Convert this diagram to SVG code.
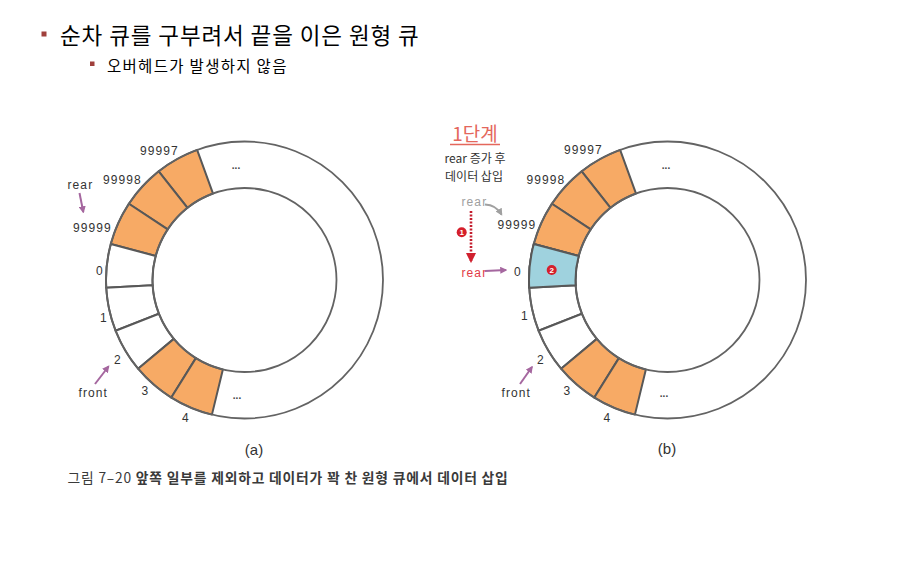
<svg xmlns="http://www.w3.org/2000/svg" width="902" height="581" viewBox="0 0 902 581">
<style>
.lbl{font-family:"Liberation Sans",Arial,sans-serif;font-size:12px;letter-spacing:1.1px;fill:#333}
.kr{font-family:"Noto Sans CJK KR","Noto Sans",sans-serif}
.dots{font-family:"Liberation Sans",Arial,sans-serif;font-size:10px;font-weight:bold;fill:#444;text-anchor:middle}
.cell{stroke:#585858;stroke-width:2;stroke-linejoin:round}
.full{fill:#F7AA65}
.empty{fill:#fff}
.ins{fill:#9FD2DE}
.ring{fill:none;stroke:#636363;stroke-width:1.8}
.parr{stroke:#A5679F;stroke-width:2;fill:none}
.sub{font-family:"Liberation Sans",Arial,sans-serif;font-size:15px;fill:#333;text-anchor:middle}
</style>
<defs>
<marker id="mp" viewBox="0 0 10 10" refX="8" refY="5" markerWidth="3.6" markerHeight="3.6" orient="auto"><path d="M0,0 L10,5 L0,10 z" fill="#A5679F"/></marker>
<marker id="mg" viewBox="0 0 10 10" refX="8" refY="5" markerWidth="3.6" markerHeight="3.6" orient="auto"><path d="M0,0 L10,5 L0,10 z" fill="#A0A0A0"/></marker>
<marker id="mr" viewBox="0 0 10 10" refX="8" refY="5" markerWidth="4" markerHeight="4" orient="auto"><path d="M0,0 L10,5 L0,10 z" fill="#D0202E"/></marker>
<g id="ring-shape">
<path class="cell full" d="M197.13,149.85 A138.5,138.5 0 0 0 158.67,171.30 L187.49,207.79 A92,92 0 0 1 213.03,193.55 Z"/>
<path class="cell full" d="M158.67,171.30 A138.5,138.5 0 0 0 128.87,203.76 L167.69,229.36 A92,92 0 0 1 187.49,207.79 Z"/>
<path class="cell full" d="M128.87,203.76 A138.5,138.5 0 0 0 110.78,243.92 L155.68,256.03 A92,92 0 0 1 167.69,229.36 Z"/>
<path class="cell empty" d="M110.78,243.92 A138.5,138.5 0 0 0 106.22,287.73 L152.64,285.14 A92,92 0 0 1 155.68,256.03 Z"/>
<path class="cell empty" d="M106.22,287.73 A138.5,138.5 0 0 0 115.64,330.76 L158.90,313.72 A92,92 0 0 1 152.64,285.14 Z"/>
<path class="cell empty" d="M115.64,330.76 A138.5,138.5 0 0 0 138.09,368.66 L173.82,338.89 A92,92 0 0 1 158.90,313.72 Z"/>
<path class="cell full" d="M138.09,368.66 A138.5,138.5 0 0 0 171.31,397.58 L195.88,358.10 A92,92 0 0 1 173.82,338.89 Z"/>
<path class="cell full" d="M171.31,397.58 A138.5,138.5 0 0 0 211.93,414.62 L222.87,369.42 A92,92 0 0 1 195.88,358.10 Z"/>
<circle class="ring" cx="244.5" cy="280" r="138.5"/>
<circle class="ring" cx="244.5" cy="280" r="92"/>
</g>
</defs>

<g id="header">
<rect x="41.5" y="31.5" width="5" height="5" fill="#A0403C"/>
<text class="kr" x="60" y="44" font-size="22.5" letter-spacing="0.9" fill="#000">순차 큐를 구부려서 끝을 이은 원형 큐</text>
<rect x="90" y="61.5" width="4.5" height="4.5" fill="#A0403C"/>
<text class="kr" x="107" y="72" font-size="15.5" letter-spacing="1.3" fill="#000">오버헤드가 발생하지 않음</text>
</g>

<g id="queue-a">
<use href="#ring-shape"/>
<text class="dots" x="236" y="169">...</text>
<text class="dots" x="237" y="399">...</text>
<text class="lbl" x="140" y="155">99997</text>
<text class="lbl" x="103" y="184">99998</text>
<text class="lbl" x="73" y="231.5">99999</text>
<text class="lbl" x="96" y="275">0</text>
<text class="lbl" x="100" y="321.5">1</text>
<text class="lbl" x="114" y="363.5">2</text>
<text class="lbl" x="141.5" y="395">3</text>
<text class="lbl" x="182" y="421.5">4</text>
<text class="lbl" x="67.5" y="189">rear</text>
<text class="lbl" x="78.5" y="396.5">front</text>
<text class="sub" x="254" y="455">(a)</text>
</g>

<g id="queue-b">
<g transform="translate(423,0)"><use href="#ring-shape"/></g>
<path id="cell-b-0" class="cell ins" d="M533.78,243.92 A138.5,138.5 0 0 0 529.22,287.73 L575.64,285.14 A92,92 0 0 1 578.68,256.03 Z"/>
<text class="dots" x="666" y="169">...</text>
<text class="dots" x="664" y="397">...</text>
<text class="lbl" x="564" y="154">99997</text>
<text class="lbl" x="526.5" y="183.5">99998</text>
<text class="lbl" x="497.5" y="228.5">99999</text>
<text class="lbl" x="514" y="275.5">0</text>
<text class="lbl" x="521" y="320">1</text>
<text class="lbl" x="537" y="363.5">2</text>
<text class="lbl" x="563.5" y="395">3</text>
<text class="lbl" x="603.5" y="422">4</text>
<text class="lbl" x="501.5" y="396.5">front</text>
<text class="lbl" x="461.5" y="206" style="fill:#A0A0A0">rear</text>
<text class="lbl" x="461.5" y="277" style="fill:#E23A46">rear</text>
<text class="kr" x="475" y="141" font-size="19" fill="#E4675C" text-anchor="middle">1단계</text>
<line x1="450" y1="144.5" x2="500" y2="144.5" stroke="#E4675C" stroke-width="1.5"/>
<text class="kr" x="475" y="163" font-size="12" fill="#333" text-anchor="middle">rear 증가 후</text>
<text class="kr" x="474" y="181" font-size="12" fill="#333" text-anchor="middle">데이터 삽입</text>
<circle cx="461.7" cy="232.3" r="5" fill="#D51F2B"/>
<text x="461.7" y="235.2" font-family="Liberation Sans,Arial,sans-serif" font-size="8" font-weight="bold" fill="#fff" text-anchor="middle">1</text>
<circle cx="551.7" cy="270" r="5" fill="#D51F2B"/>
<text x="551.7" y="272.9" font-family="Liberation Sans,Arial,sans-serif" font-size="8" font-weight="bold" fill="#fff" text-anchor="middle">2</text>
<text class="sub" x="667" y="454">(b)</text>
</g>

<g id="connectors">
<line class="parr" x1="79.5" y1="193" x2="83.3" y2="212" marker-end="url(#mp)"/>
<line class="parr" x1="95" y1="384" x2="108.5" y2="366.5" marker-end="url(#mp)"/>
<line class="parr" x1="520" y1="384" x2="532" y2="367" marker-end="url(#mp)"/>
<line class="parr" x1="485" y1="271" x2="506" y2="270" marker-end="url(#mp)"/>
<path d="M485,204.5 Q496,205 501.5,214.5" stroke="#A0A0A0" stroke-width="2" fill="none" marker-end="url(#mg)"/>
<line x1="471" y1="211" x2="471" y2="261" stroke="#C41E2E" stroke-width="2.6" stroke-dasharray="2 1.5" marker-end="url(#mr)"/>
</g>

<g id="caption">
<text class="kr" x="67.5" y="483" font-size="13.8" letter-spacing="0.8" fill="#3a3a3a">그림 7–20 <tspan font-weight="bold">앞쪽 일부를 제외하고 데이터가 꽉 찬 원형 큐에서 데이터 삽입</tspan></text>
</g>
</svg>
